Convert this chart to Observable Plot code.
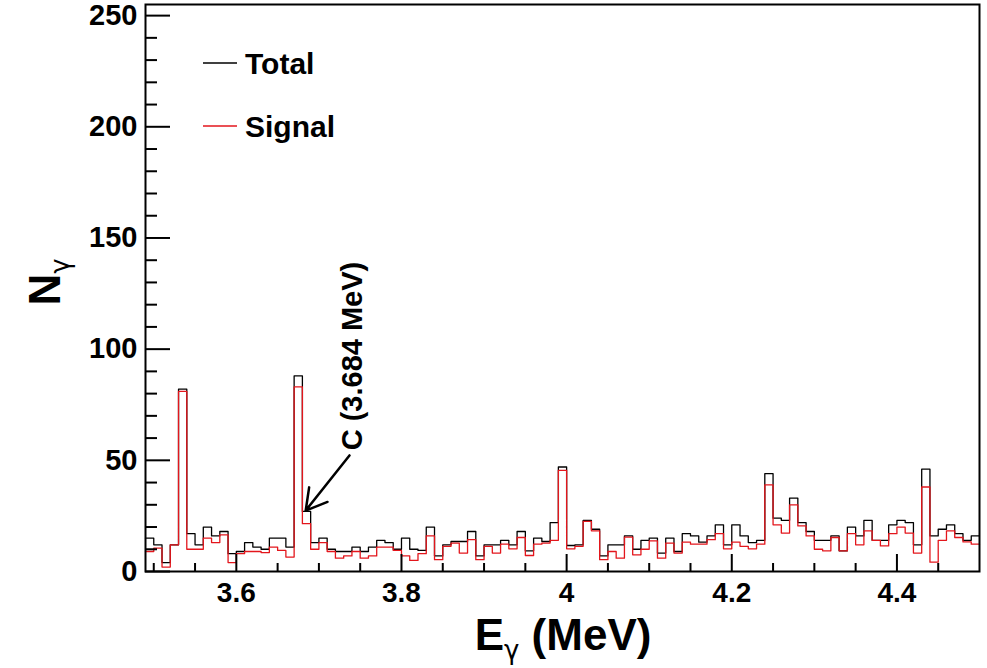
<!DOCTYPE html>
<html><head><meta charset="utf-8">
<script src="https://cdn.jsdelivr.net/npm/d3@7"></script>
<script src="https://cdn.jsdelivr.net/npm/@observablehq/plot@0.6"></script>
<style>
body{margin:0;background:#fff;}
#chart{position:relative;width:987px;height:668px;}
svg{font-family:"Liberation Sans",Arial,Helvetica,sans-serif;}
</style></head><body><div id="chart"></div>
<script>
// Bin lower edges (0.01 MeV bins from 3.49 to 4.50 MeV)
const binLowEdges = d3.range(101).map(i => +(3.49 + i * 0.01).toFixed(2));
const binUpperEnd = 4.50;
const totalCounts = [
 15,12,4,12,82,17,12,20,16,18,
 8,9,13,11,10,15,15,11,88,27,
 13,15,10,9,9,11,9,11,14,13,
 10,15,10,9.5,20,7,12,13.5,13.5,18,
 7,12,12,14,12,18,9.3,15,13.5,22,
 47,11.7,12,23,19,7,12,12,16,10,
 14,15,8.3,15,9,17,16,13.2,16,21,
 12,21,16,13,14,44,24,23,33,22,
 18,14,14,16,9.3,20,16,23,14,14,
 21,23,22,12,46,16,19,21,17,14,
 16];
const signalCounts = [
 9,10.5,2,12,81,10,10,15,13,16.5,
 4,8,9,9,8.5,11,9.5,6.5,83,21.5,
 10,13,9,6,7,9,6,7,11,11,
 9.5,7,5,8,16,5.3,11.3,12.8,8.3,14.3,
 5.3,11.3,8.3,12.3,10.2,15.3,7.2,12.3,12.8,14,
 45.5,10.2,11.3,22.5,18.3,5.3,9,6,15.5,7.5,
 10,13.8,6,12.8,8.3,13.2,12.3,12.3,14.3,17,
 10.2,13.2,11.3,10.2,12.3,39,21,17.3,30,20.5,
 16,10,9.3,15.3,9.3,17,12,18.3,14,11.5,
 17,20,17.3,8.3,38,4.2,14,18.3,15.3,13.3,
 12.3];
const seriesNames = ["Total", "Signal"];
const seriesColors = ["#000000", "#e3161c"];
const xMajorTicks = [3.6, 3.8, 4.0, 4.2, 4.4];
const xMinorTicks = [3.5, 3.55, 3.65, 3.7, 3.75, 3.85, 3.9, 3.95, 4.05, 4.1, 4.15, 4.25, 4.3, 4.35, 4.45];
const yMajorTicks = [0, 50, 100, 150, 200, 250];
const yMinorTicks = [10,20,30,40,60,70,80,90,110,120,130,140,160,170,180,190,210,220,230,240];
const xDomain = [3.49, 4.50];
const yDomain = [0, 255];
const annotations = [{label: "C (3.684 MeV)", energy: 3.684, count: 27.4, labelEnergy: 3.7405, labelCount: 54.5, tailEnergy: 3.737, tailCount: 52.2}];

function steps(values) {
  const pts = binLowEdges.map((x, i) => ({x, y: values[i]}));
  pts.push({x: binUpperEnd, y: values[values.length - 1]});
  return pts;
}

const fontBold = {fontWeight: "bold", fill: "#000"};

const chart = Plot.plot({
  width: 987, height: 668,
  marginLeft: 145, marginRight: 8, marginTop: 4, marginBottom: 97,
  style: {fontFamily: '"Liberation Sans", Arial, Helvetica, sans-serif', background: "#fff"},
  x: {domain: xDomain, axis: null, label: null},
  y: {domain: yDomain, axis: null, label: null},
  marks: [
    Plot.lineY(steps(totalCounts), {x: "x", y: "y", curve: "step-after", stroke: seriesColors[0], strokeWidth: 1.3}),
    Plot.lineY(steps(signalCounts), {x: "x", y: "y", curve: "step-after", stroke: seriesColors[1], strokeWidth: 1.3}),
    Plot.axisX(xMajorTicks, {anchor: "bottom", tickSize: -17, strokeWidth: 2, stroke: "#000", fill: "none", label: null}),
    Plot.axisX(xMinorTicks, {anchor: "bottom", tickSize: -8, strokeWidth: 2, stroke: "#000", fill: "none", label: null}),
    Plot.axisY(yMajorTicks, {anchor: "left", tickSize: -25, strokeWidth: 2, stroke: "#000", fill: "none", label: null}),
    Plot.axisY(yMinorTicks, {anchor: "left", tickSize: -12, strokeWidth: 2, stroke: "#000", fill: "none", label: null}),
    Plot.axisX(xMajorTicks, {anchor: "bottom", tickSize: 0, tickPadding: 11, tickFormat: "~g", fontSize: 28, fontWeight: "bold", fill: "#000", label: null}),
    Plot.axisY(yMajorTicks, {anchor: "left", tickSize: 0, tickPadding: 8, fontSize: 29, fontWeight: "bold", fill: "#000", label: null}),
    Plot.frame({stroke: "#000", strokeWidth: 2}),
    Plot.arrow(annotations, {x1: "tailEnergy", y1: "tailCount", x2: "energy", y2: "count", stroke: "#000", strokeWidth: 2.5, headLength: 16, insetEnd: 0}),
    Plot.text(annotations, {x: "labelEnergy", y: "labelCount", text: "label", rotate: -90, textAnchor: "start", lineAnchor: "middle", fontSize: 29, ...fontBold})
  ]
});
document.getElementById("chart").appendChild(chart);

const svg = d3.select(chart);
// Legend
const leg = svg.append("g").attr("text-anchor", "start");
seriesNames.forEach((name, i) => {
  const cy = 63 + i * 63;
  leg.append("line").attr("x1", 203).attr("x2", 237).attr("y1", cy).attr("y2", cy)
    .attr("stroke", seriesColors[i]).attr("stroke-width", 1.3);
  leg.append("text").attr("x", 245).attr("y", cy).attr("dy", "0.35em").attr("text-anchor", "start")
    .attr("font-size", 30).attr("font-weight", "bold").attr("fill", "#000").text(name);
});
// X axis title
const xt = svg.append("text").attr("x", 563).attr("y", 650).attr("text-anchor", "middle")
  .attr("font-size", 44).attr("font-weight", "bold").attr("fill", "#000");
xt.append("tspan").text("E");
xt.append("tspan").attr("font-size", 26).attr("dy", 9).attr("font-family", '"DejaVu Sans", sans-serif').attr("font-weight", "normal").text("γ");
xt.append("tspan").attr("dy", -9).text(" (MeV)");
// Y axis title
const yt = svg.append("text").attr("transform", "translate(60,282) rotate(-90)").attr("text-anchor", "middle")
  .attr("font-size", 44).attr("font-weight", "bold").attr("fill", "#000");
yt.append("tspan").text("N");
yt.append("tspan").attr("font-size", 26).attr("dy", 9).attr("font-family", '"DejaVu Sans", sans-serif').attr("font-weight", "normal").text("γ");
</script></body></html>
